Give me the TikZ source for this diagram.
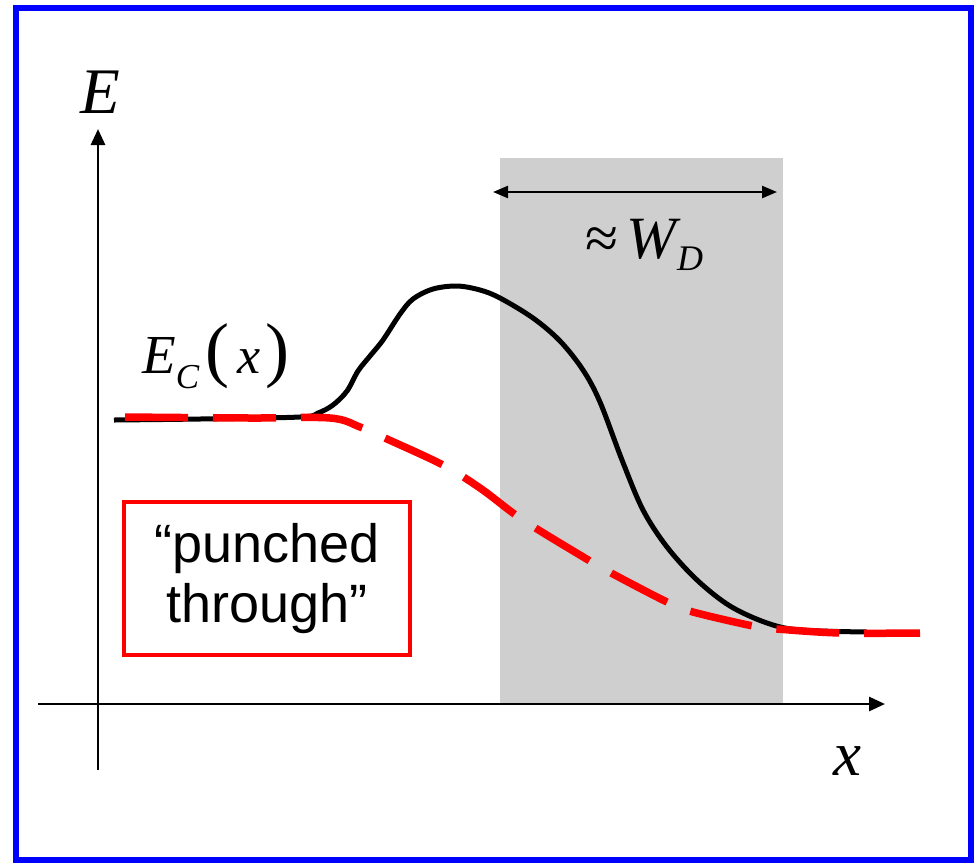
\documentclass[tikz,border=0pt]{standalone}
\usepackage{fontspec}
\setmainfont{Liberation Serif}
\newfontfamily\arialf{Liberation Sans}
\usetikzlibrary{arrows.meta}
\definecolor{bordblue}{RGB}{0,0,255}
\definecolor{shadegray}{RGB}{207,207,207}
\definecolor{pred}{RGB}{255,0,0}
\tikzset{
  axisline/.style={line width=2.8pt, -{Triangle[length=16pt,width=14pt]}},
  dimline/.style={line width=2.4pt, {Triangle[length=15pt,width=12pt]}-{Triangle[length=15pt,width=12pt]}},
  eccurve/.style={line width=5pt, line join=round},
  ptcurve/.style={line width=7.5pt, pred, dash pattern=on 63pt off 25pt},
  redbox/.style={draw=pred, line width=4.5pt, minimum width=286pt, minimum height=153pt, align=center, inner sep=0pt,
     font=\arialf\fontsize{54}{60}\selectfont},
}
\begin{document}
\begin{tikzpicture}[x=1pt,y=-1pt]
\useasboundingbox (0,0) rectangle (974,863);
% frame
\draw[bordblue, line width=6pt] (16,8) rectangle (971,860);
% shaded depletion region
\fill[shadegray] (500,158) rectangle (783,704);
% axes
\coordinate (yb) at (98,770);
\coordinate (yt) at (98,129);
\coordinate (xl) at (38,704);
\coordinate (xr) at (885,704);
\draw[axisline] (yb) -- (yt);
\draw[axisline] (xl) -- (xr);
% W_D arrow
\coordinate (wl) at (493,192);
\coordinate (wr) at (777,192);
\draw[dimline] (wl) -- (wr);
% labels
\node[anchor=base, inner sep=0pt, font=\fontsize{65}{65}\selectfont\itshape] (Elab) at (100,113) {E};
\node[anchor=base, inner sep=0pt, font=\fontsize{63}{63}\selectfont\itshape] (xlab) at (847,775) {x};
\node[anchor=base west, inner sep=0pt] (Eclab) at (142,373)
  {\fontsize{55}{55}\selectfont\itshape E\raisebox{-15pt}{\fontsize{35}{35}\selectfont C}\hspace{6pt}\fontsize{72}{72}\selectfont\upshape(\hspace{8pt}\fontsize{52}{52}\selectfont\itshape x\hspace{5pt}\fontsize{72}{72}\selectfont\upshape)};
\node[anchor=base west, inner sep=0pt] (wdlab) at (585,258)
  {\fontsize{60}{60}\selectfont ≈\hspace{8pt}\itshape W\hspace{1pt}\raisebox{-12pt}{\fontsize{36}{36}\selectfont D}};
% box
\node[redbox] (ptbox) at (267,578.5) {“punched\\through”};
% curves
\draw[eccurve] plot[smooth, tension=0.55] coordinates {
 (114,420) (200,419) (300,417) (318,413) (333,405) (347,391) (358,371) (370,356) (383,340)
 (400,314) (413,299) (433,289) (457,286) (480,290) (500,298) (533,318) (560,341) (583,370)
 (600,402) (622,460) (643,510) (667,547) (697,580) (730,606) (767,623) (800,630) (867,632)};
\draw[ptcurve] plot[smooth, tension=0.55] coordinates {
 (125,417) (250,418) (330,418) (360,427) (387,439) (443,465) (480,488) (513,513) (537,529)
 (590,561) (613,574) (667,602) (693,612) (753,626) (777,629) (840,633) (920,633)};
\end{tikzpicture}
\end{document}
